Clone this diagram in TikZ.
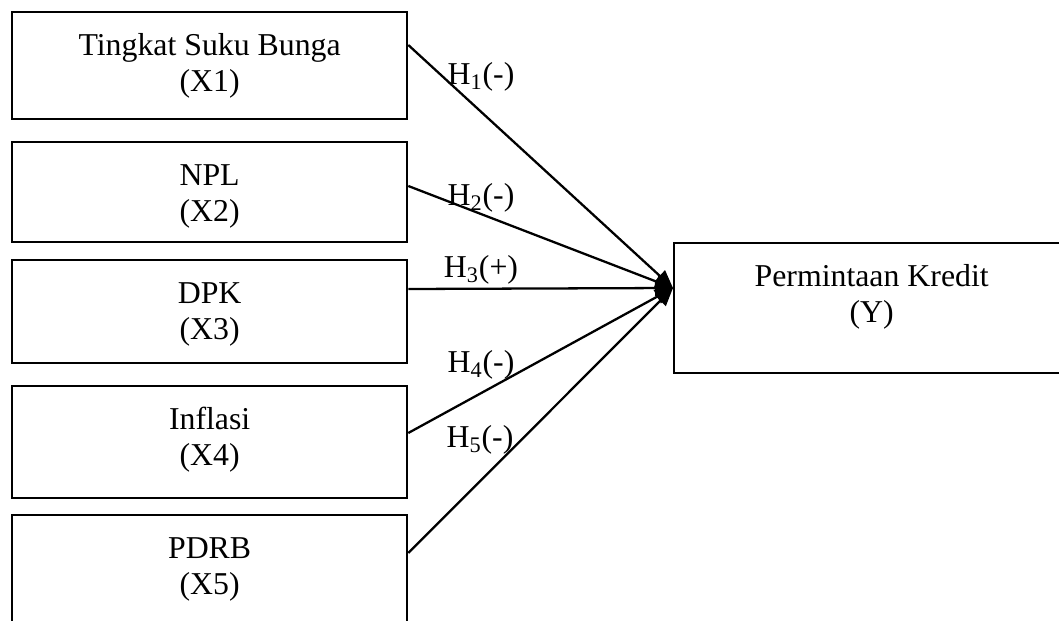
\documentclass[tikz,border=0pt]{standalone}
\usepackage{fontspec}
\setmainfont{Liberation Serif}
\usetikzlibrary{arrows.meta}

\tikzset{
  varbox/.style={draw, line width=1.3pt, anchor=north west, minimum width=7.9cm,
    inner xsep=0pt, inner ysep=0pt, align=center, text height=1.58cm, text depth=#1},
  hyp/.style={inner sep=0pt},
  effect/.style={line width=1.3pt, -{Triangle[length=0.36cm,width=0.3cm]}}
}

\begin{document}
\begin{tikzpicture}[font=\fontsize{18.1}{20.5}\selectfont]
  \useasboundingbox (0,0) rectangle (21.18,-12.42);

  % independent variables
  \node[varbox=0.56cm] (x1) at (0.22,-0.22) {Tingkat Suku Bunga\\(X1)};
  \node[varbox=0.42cm] (x2) at (0.22,-2.82) {NPL\\(X2)};
  \node[varbox=0.48cm] (x3) at (0.22,-5.18) {DPK\\(X3)};
  \node[varbox=0.66cm] (x4) at (0.22,-7.70) {Inflasi\\(X4)};
  \node[varbox=3cm] (x5) at (0.22,-10.28) {PDRB\\(X5)};

  % dependent variable
  \node[varbox=1.02cm] (y) at (13.46,-4.84) {Permintaan Kredit\\(Y)};

  % hypotheses
  \draw[effect] ([yshift=-0.68cm]x1.north east) -- ([yshift=-0.92cm]y.north west);
  \draw[effect] ([yshift=-0.90cm]x2.north east) -- ([yshift=-0.92cm]y.north west);
  \draw[effect] ([yshift=-0.60cm]x3.north east) -- ([yshift=-0.92cm]y.north west);
  \draw[effect] ([yshift=-0.96cm]x4.north east) -- ([yshift=-0.92cm]y.north west);
  \draw[effect] ([yshift=-0.78cm]x5.north east) -- ([yshift=-0.92cm]y.north west);

  \node[hyp] (h1) at (9.62,-1.54) {H\textsubscript{1}(-)};
  \node[hyp] (h2) at (9.62,-3.96) {H\textsubscript{2}(-)};
  \node[hyp] (h3) at (9.62,-5.40) {H\textsubscript{3}(+)};
  \node[hyp] (h4) at (9.62,-7.30) {H\textsubscript{4}(-)};
  \node[hyp] (h5) at (9.60,-8.80) {H\textsubscript{5}(-)};
\end{tikzpicture}
\end{document}
